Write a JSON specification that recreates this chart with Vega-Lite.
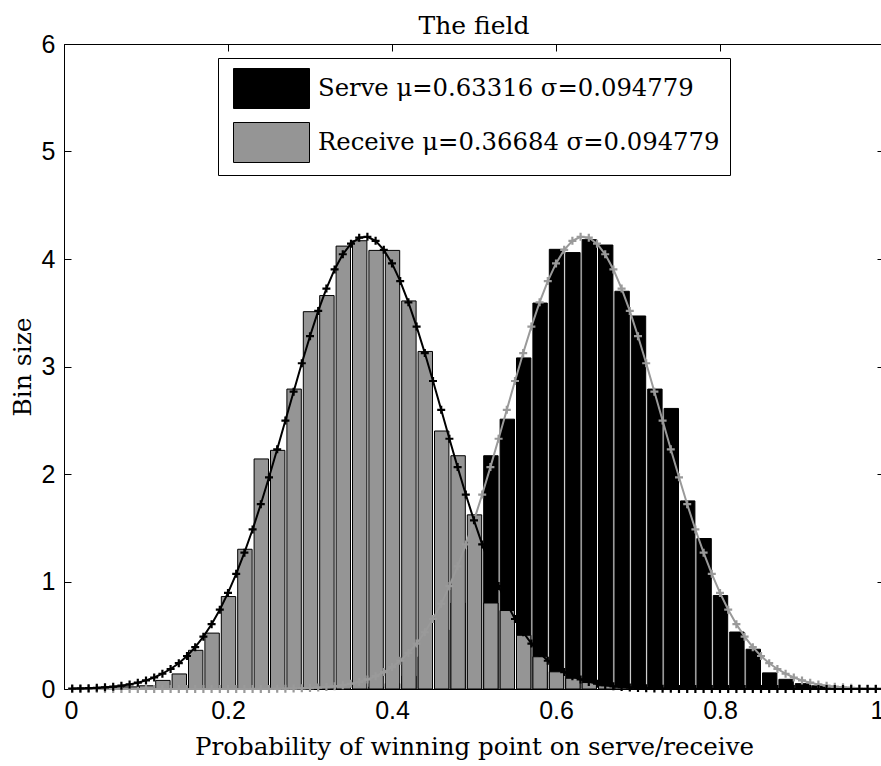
{
  "$schema": "https://vega.github.io/schema/vega-lite/v6.json",
  "width": 820,
  "height": 645,
  "autosize": "none",
  "padding": {"left": 64, "top": 44, "right": 0, "bottom": 77},
  "background": "white",
  "title": {"text": "The field", "font": "DejaVu Serif", "fontSize": 25, "fontWeight": "normal", "color": "black", "offset": -7, "anchor": "middle"},
  "config": {
    "view": {"stroke": "black", "strokeWidth": 1},
    "axis": {"grid": false, "domain": false, "tickColor": "black", "tickSize": -7, "tickWidth": 1, "labelFont": "Liberation Sans", "labelFontSize": 25, "labelColor": "black", "titleFont": "DejaVu Serif", "titleFontSize": 24.5, "titleFontWeight": "normal", "titleColor": "black"},
    "legend": {"orient": "none", "legendX": 154, "legendY": 14, "strokeColor": "black", "fillColor": "white", "padding": 10, "labelFont": "DejaVu Serif", "labelFontSize": 24.3, "labelColor": "black", "labelLimit": 0, "symbolType": "M-0.75,-1H3.05V1H-0.75Z", "symbolSize": 1600, "symbolStrokeColor": "black", "symbolStrokeWidth": 1, "symbolOpacity": 1, "labelOffset": 49, "rowPadding": 9}
  },
  "datasets": {
    "bins": [
      {"lo": 0.01, "hi": 0.03, "receive": 0, "serve": 0},
      {"lo": 0.03, "hi": 0.05, "receive": 0.01, "serve": 0},
      {"lo": 0.05, "hi": 0.07, "receive": 0.01, "serve": 0},
      {"lo": 0.07, "hi": 0.09, "receive": 0.02, "serve": 0},
      {"lo": 0.09, "hi": 0.11, "receive": 0.03, "serve": 0},
      {"lo": 0.11, "hi": 0.13, "receive": 0.08, "serve": 0},
      {"lo": 0.13, "hi": 0.15, "receive": 0.14, "serve": 0},
      {"lo": 0.15, "hi": 0.17, "receive": 0.36, "serve": 0},
      {"lo": 0.17, "hi": 0.19, "receive": 0.52, "serve": 0},
      {"lo": 0.19, "hi": 0.21, "receive": 0.86, "serve": 0},
      {"lo": 0.21, "hi": 0.23, "receive": 1.30, "serve": 0},
      {"lo": 0.23, "hi": 0.25, "receive": 2.14, "serve": 0},
      {"lo": 0.25, "hi": 0.27, "receive": 2.22, "serve": 0},
      {"lo": 0.27, "hi": 0.29, "receive": 2.79, "serve": 0},
      {"lo": 0.29, "hi": 0.31, "receive": 3.51, "serve": 0},
      {"lo": 0.31, "hi": 0.33, "receive": 3.66, "serve": 0},
      {"lo": 0.33, "hi": 0.35, "receive": 4.12, "serve": 0},
      {"lo": 0.35, "hi": 0.37, "receive": 4.17, "serve": 0.01},
      {"lo": 0.37, "hi": 0.39, "receive": 4.08, "serve": 0.02},
      {"lo": 0.39, "hi": 0.41, "receive": 4.08, "serve": 0.05},
      {"lo": 0.41, "hi": 0.43, "receive": 3.61, "serve": 0.12},
      {"lo": 0.43, "hi": 0.45, "receive": 3.14, "serve": 0.30},
      {"lo": 0.45, "hi": 0.47, "receive": 2.40, "serve": 0.55},
      {"lo": 0.47, "hi": 0.49, "receive": 2.17, "serve": 0.80},
      {"lo": 0.49, "hi": 0.51, "receive": 1.62, "serve": 1.30},
      {"lo": 0.51, "hi": 0.53, "receive": 0.80, "serve": 2.17},
      {"lo": 0.53, "hi": 0.55, "receive": 0.73, "serve": 2.51},
      {"lo": 0.55, "hi": 0.57, "receive": 0.50, "serve": 3.08},
      {"lo": 0.57, "hi": 0.59, "receive": 0.30, "serve": 3.59},
      {"lo": 0.59, "hi": 0.61, "receive": 0.16, "serve": 4.09},
      {"lo": 0.61, "hi": 0.63, "receive": 0.10, "serve": 4.06},
      {"lo": 0.63, "hi": 0.65, "receive": 0.06, "serve": 4.18},
      {"lo": 0.65, "hi": 0.67, "receive": 0.03, "serve": 4.13},
      {"lo": 0.67, "hi": 0.69, "receive": 0.02, "serve": 3.70},
      {"lo": 0.69, "hi": 0.71, "receive": 0.01, "serve": 3.47},
      {"lo": 0.71, "hi": 0.73, "receive": 0, "serve": 2.79},
      {"lo": 0.73, "hi": 0.75, "receive": 0, "serve": 2.61},
      {"lo": 0.75, "hi": 0.77, "receive": 0, "serve": 1.75},
      {"lo": 0.77, "hi": 0.79, "receive": 0, "serve": 1.40},
      {"lo": 0.79, "hi": 0.81, "receive": 0, "serve": 0.87},
      {"lo": 0.81, "hi": 0.83, "receive": 0, "serve": 0.53},
      {"lo": 0.83, "hi": 0.85, "receive": 0, "serve": 0.37},
      {"lo": 0.85, "hi": 0.87, "receive": 0, "serve": 0.15},
      {"lo": 0.87, "hi": 0.89, "receive": 0, "serve": 0.09},
      {"lo": 0.89, "hi": 0.91, "receive": 0, "serve": 0.05},
      {"lo": 0.91, "hi": 0.93, "receive": 0, "serve": 0.03},
      {"lo": 0.93, "hi": 0.95, "receive": 0, "serve": 0.01},
      {"lo": 0.95, "hi": 0.97, "receive": 0, "serve": 0.01},
      {"lo": 0.97, "hi": 0.99, "receive": 0, "serve": 0}
    ],
    "fit": [
      {"x": 0.01, "receive": 0.004, "serve": 0},
      {"x": 0.02, "receive": 0.005, "serve": 0},
      {"x": 0.03, "receive": 0.008, "serve": 0},
      {"x": 0.04, "receive": 0.011, "serve": 0},
      {"x": 0.05, "receive": 0.016, "serve": 0},
      {"x": 0.06, "receive": 0.022, "serve": 0},
      {"x": 0.07, "receive": 0.031, "serve": 0},
      {"x": 0.08, "receive": 0.043, "serve": 0},
      {"x": 0.09, "receive": 0.059, "serve": 0},
      {"x": 0.10, "receive": 0.080, "serve": 0},
      {"x": 0.11, "receive": 0.107, "serve": 0},
      {"x": 0.12, "receive": 0.142, "serve": 0},
      {"x": 0.13, "receive": 0.186, "serve": 0},
      {"x": 0.14, "receive": 0.240, "serve": 0},
      {"x": 0.15, "receive": 0.307, "serve": 0},
      {"x": 0.16, "receive": 0.389, "serve": 0},
      {"x": 0.17, "receive": 0.487, "serve": 0},
      {"x": 0.18, "receive": 0.603, "serve": 0},
      {"x": 0.19, "receive": 0.738, "serve": 0},
      {"x": 0.20, "receive": 0.894, "serve": 0},
      {"x": 0.21, "receive": 1.071, "serve": 0},
      {"x": 0.22, "receive": 1.268, "serve": 0},
      {"x": 0.23, "receive": 1.484, "serve": 0.001},
      {"x": 0.24, "receive": 1.719, "serve": 0.001},
      {"x": 0.25, "receive": 1.969, "serve": 0.001},
      {"x": 0.26, "receive": 2.230, "serve": 0.002},
      {"x": 0.27, "receive": 2.497, "serve": 0.003},
      {"x": 0.28, "receive": 2.766, "serve": 0.004},
      {"x": 0.29, "receive": 3.030, "serve": 0.006},
      {"x": 0.30, "receive": 3.282, "serve": 0.009},
      {"x": 0.31, "receive": 3.517, "serve": 0.013},
      {"x": 0.32, "receive": 3.725, "serve": 0.018},
      {"x": 0.33, "receive": 3.903, "serve": 0.025},
      {"x": 0.34, "receive": 4.044, "serve": 0.035},
      {"x": 0.35, "receive": 4.143, "serve": 0.049},
      {"x": 0.36, "receive": 4.198, "serve": 0.066},
      {"x": 0.37, "receive": 4.207, "serve": 0.089},
      {"x": 0.38, "receive": 4.169, "serve": 0.119},
      {"x": 0.39, "receive": 4.085, "serve": 0.157},
      {"x": 0.40, "receive": 3.959, "serve": 0.204},
      {"x": 0.41, "receive": 3.795, "serve": 0.263},
      {"x": 0.42, "receive": 3.597, "serve": 0.336},
      {"x": 0.43, "receive": 3.371, "serve": 0.423},
      {"x": 0.44, "receive": 3.125, "serve": 0.528},
      {"x": 0.45, "receive": 2.865, "serve": 0.651},
      {"x": 0.46, "receive": 2.597, "serve": 0.793},
      {"x": 0.47, "receive": 2.328, "serve": 0.957},
      {"x": 0.48, "receive": 2.064, "serve": 1.141},
      {"x": 0.49, "receive": 1.809, "serve": 1.345},
      {"x": 0.50, "receive": 1.569, "serve": 1.569},
      {"x": 0.51, "receive": 1.345, "serve": 1.809},
      {"x": 0.52, "receive": 1.141, "serve": 2.064},
      {"x": 0.53, "receive": 0.957, "serve": 2.328},
      {"x": 0.54, "receive": 0.793, "serve": 2.597},
      {"x": 0.55, "receive": 0.651, "serve": 2.865},
      {"x": 0.56, "receive": 0.528, "serve": 3.125},
      {"x": 0.57, "receive": 0.423, "serve": 3.371},
      {"x": 0.58, "receive": 0.336, "serve": 3.597},
      {"x": 0.59, "receive": 0.263, "serve": 3.795},
      {"x": 0.60, "receive": 0.204, "serve": 3.959},
      {"x": 0.61, "receive": 0.157, "serve": 4.085},
      {"x": 0.62, "receive": 0.119, "serve": 4.169},
      {"x": 0.63, "receive": 0.089, "serve": 4.207},
      {"x": 0.64, "receive": 0.066, "serve": 4.198},
      {"x": 0.65, "receive": 0.049, "serve": 4.143},
      {"x": 0.66, "receive": 0.035, "serve": 4.044},
      {"x": 0.67, "receive": 0.025, "serve": 3.903},
      {"x": 0.68, "receive": 0.018, "serve": 3.725},
      {"x": 0.69, "receive": 0.013, "serve": 3.517},
      {"x": 0.70, "receive": 0.009, "serve": 3.282},
      {"x": 0.71, "receive": 0.006, "serve": 3.030},
      {"x": 0.72, "receive": 0.004, "serve": 2.766},
      {"x": 0.73, "receive": 0.003, "serve": 2.497},
      {"x": 0.74, "receive": 0.002, "serve": 2.230},
      {"x": 0.75, "receive": 0.001, "serve": 1.969},
      {"x": 0.76, "receive": 0.001, "serve": 1.719},
      {"x": 0.77, "receive": 0.001, "serve": 1.484},
      {"x": 0.78, "receive": 0, "serve": 1.268},
      {"x": 0.79, "receive": 0, "serve": 1.071},
      {"x": 0.80, "receive": 0, "serve": 0.894},
      {"x": 0.81, "receive": 0, "serve": 0.738},
      {"x": 0.82, "receive": 0, "serve": 0.603},
      {"x": 0.83, "receive": 0, "serve": 0.487},
      {"x": 0.84, "receive": 0, "serve": 0.389},
      {"x": 0.85, "receive": 0, "serve": 0.307},
      {"x": 0.86, "receive": 0, "serve": 0.240},
      {"x": 0.87, "receive": 0, "serve": 0.186},
      {"x": 0.88, "receive": 0, "serve": 0.142},
      {"x": 0.89, "receive": 0, "serve": 0.107},
      {"x": 0.90, "receive": 0, "serve": 0.080},
      {"x": 0.91, "receive": 0, "serve": 0.059},
      {"x": 0.92, "receive": 0, "serve": 0.043},
      {"x": 0.93, "receive": 0, "serve": 0.031},
      {"x": 0.94, "receive": 0, "serve": 0.022},
      {"x": 0.95, "receive": 0, "serve": 0.016},
      {"x": 0.96, "receive": 0, "serve": 0.011},
      {"x": 0.97, "receive": 0, "serve": 0.008},
      {"x": 0.98, "receive": 0, "serve": 0.005},
      {"x": 0.99, "receive": 0, "serve": 0.004},
      {"x": 1.00, "receive": 0, "serve": 0.003}
    ]
  },
  "layer": [
    {
      "data": {"name": "bins"},
      "mark": {"type": "bar", "stroke": "black", "strokeWidth": 1, "binSpacing": 2},
      "encoding": {
        "x": {"field": "lo", "type": "quantitative", "bin": "binned", "scale": {"domain": [0, 1]},
              "axis": {"orient": "bottom", "values": [0, 0.2, 0.4, 0.6, 0.8, 1], "format": "~g", "labelPadding": 16, "title": "Probability of winning point on serve/receive", "titlePadding": 12}},
        "x2": {"field": "hi"},
        "y": {"field": "serve", "type": "quantitative", "scale": {"domain": [0, 6]},
              "axis": {"orient": "left", "values": [0, 1, 2, 3, 4, 5, 6], "format": "d", "labelPadding": 16, "title": "Bin size", "titlePadding": 6, "titleFontSize": 25}},
        "color": {"datum": "Serve", "type": "nominal",
                  "scale": {"domain": ["Serve", "Receive"], "range": ["#000000", "#959595"]},
                  "legend": {"title": null, "labelExpr": "datum.label == 'Serve' ? 'Serve μ=0.63316 σ=0.094779' : 'Receive μ=0.36684 σ=0.094779'"}}
      }
    },
    {
      "data": {"name": "bins"},
      "mark": {"type": "bar", "stroke": "black", "strokeWidth": 1, "binSpacing": 2},
      "encoding": {
        "x": {"field": "lo", "type": "quantitative", "bin": "binned",
              "axis": {"orient": "top", "values": [0, 0.2, 0.4, 0.6, 0.8, 1], "labels": false, "title": null}},
        "x2": {"field": "hi"},
        "y": {"field": "receive", "type": "quantitative",
              "axis": {"orient": "right", "values": [0, 1, 2, 3, 4, 5, 6], "labels": false, "title": null}},
        "color": {"datum": "Receive", "type": "nominal"}
      }
    },
    {
      "data": {"name": "fit"},
      "mark": {"type": "line", "color": "#9a9a9a", "strokeWidth": 2},
      "encoding": {
        "x": {"field": "x", "type": "quantitative", "axis": null},
        "y": {"field": "serve", "type": "quantitative", "axis": null}
      }
    },
    {
      "data": {"name": "fit"},
      "mark": {"type": "point", "shape": "M-1,0H1M0,-1V1", "filled": false, "color": "#9a9a9a", "size": 64, "strokeWidth": 2.2, "opacity": 1},
      "encoding": {
        "x": {"field": "x", "type": "quantitative", "axis": null},
        "y": {"field": "serve", "type": "quantitative", "axis": null}
      }
    },
    {
      "data": {"name": "fit"},
      "mark": {"type": "line", "color": "#000000", "strokeWidth": 2},
      "encoding": {
        "x": {"field": "x", "type": "quantitative", "axis": null},
        "y": {"field": "receive", "type": "quantitative", "axis": null}
      }
    },
    {
      "data": {"name": "fit"},
      "mark": {"type": "point", "shape": "M-1,0H1M0,-1V1", "filled": false, "color": "#000000", "size": 64, "strokeWidth": 2.2, "opacity": 1},
      "encoding": {
        "x": {"field": "x", "type": "quantitative", "axis": null},
        "y": {"field": "receive", "type": "quantitative", "axis": null}
      }
    }
  ],
  "resolve": {"axis": {"x": "independent", "y": "independent"}}
}
